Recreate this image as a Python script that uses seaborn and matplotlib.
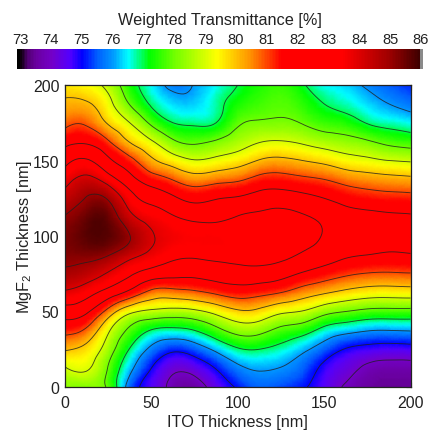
import matplotlib

matplotlib.use("Agg")
import matplotlib.pyplot as plt
import matplotlib.tri as mtri
import numpy as np
import seaborn as sns
from matplotlib.colors import LinearSegmentedColormap

# values, one list per ITO thickness, MgF2 going 0 -> 200 in 12.5 nm steps
ito_thickness = [0, 12.5, 25, 37.5, 50, 62.5, 75, 87.5, 100, 112.5, 125, 137.5, 150, 162.5, 175, 187.5, 200]
mgf2_thickness = [0, 12.5, 25, 37.5, 50, 62.5, 75, 87.5, 100, 112.5, 125, 137.5, 150, 162.5, 175, 187.5, 200]
t_000 = [78.3, 78.95, 80.1, 81.3, 82.55, 83.85, 84.8, 85.25, 85.3, 85.05, 84.4, 83.6, 82.7, 81.7, 80.75, 80.15, 79.6]
t_012 = [78.2, 79.1, 79.7, 80.8, 82.15, 83.4, 84.5, 85.3, 85.7, 85.55, 85.05, 84.25, 83.1, 81.85, 80.85, 80.1, 79.35]
t_025 = [77.85, 77.95, 78.5, 79.15, 80.65, 82.6, 83.9, 85.05, 85.7, 85.55, 84.9, 83.5, 82.2, 81.1, 79.9, 79.3, 78.7]
t_037 = [75.6, 76.25, 76.95, 77.8, 79.25, 81.7, 83.15, 84.35, 85.02, 84.3, 83.45, 82.35, 81.3, 79.95, 79.0, 77.95, 77.4]
t_050 = [74.6, 75.0, 75.8, 76.95, 78.8, 80.7, 82.55, 83.75, 84.1, 83.6, 82.65, 81.5, 80.2, 79.1, 77.8, 76.9, 76.5]
t_062 = [73.75, 74.2, 75.2, 76.75, 78.65, 80.6, 82.3, 83.25, 83.65, 83.1, 82.15, 80.95, 79.5, 78.15, 77.0, 76.35, 75.8]
t_075 = [73.6, 74.35, 75.5, 77.0, 78.8, 80.8, 82.25, 83.15, 83.5, 82.75, 81.75, 80.45, 79.05, 77.85, 76.85, 76.3, 76.05]
t_087 = [74.4, 75.05, 76.2, 77.7, 79.3, 81.15, 82.45, 83.25, 83.5, 82.75, 81.95, 80.65, 79.25, 78.1, 77.0, 76.75, 76.5]
t_100 = [75.1, 75.8, 76.9, 78.35, 79.85, 81.45, 82.6, 83.3, 83.45, 83.05, 82.1, 80.85, 79.55, 78.55, 77.85, 77.35, 77.0]
t_112 = [75.55, 76.1, 77.0, 78.3, 79.75, 81.3, 82.6, 83.35, 83.45, 83.2, 82.4, 81.3, 80.05, 78.95, 78.1, 77.65, 77.4]
t_125 = [75.4, 75.97, 76.7, 77.75, 79.2, 81.0, 82.35, 83.25, 83.45, 83.3, 82.5, 81.4, 80.2, 79.05, 78.15, 77.8, 77.6]
t_137 = [75.1, 75.55, 76.2, 77.4, 78.95, 80.5, 81.9, 82.9, 83.25, 83.1, 82.3, 81.2, 80.0, 78.85, 77.95, 77.5, 77.1]
t_150 = [74.55, 74.8, 75.55, 76.7, 78.35, 80.1, 81.5, 82.55, 82.95, 82.8, 82.0, 81.0, 79.75, 78.55, 77.6, 77.0, 76.5]
t_162 = [73.9, 74.3, 74.95, 76.3, 78.0, 79.75, 81.15, 82.15, 82.6, 82.4, 81.65, 80.65, 79.4, 78.35, 77.4, 76.7, 76.3]
t_175 = [73.55, 73.85, 74.7, 76.05, 77.75, 79.5, 80.95, 82.0, 82.4, 82.25, 81.45, 80.45, 79.2, 78.1, 76.95, 76.35, 75.85]
t_187 = [73.45, 73.7, 74.6, 76.0, 77.7, 79.45, 80.9, 81.9, 82.3, 82.15, 81.35, 80.3, 79.0, 77.75, 76.7, 76.0, 75.5]
t_200 = [73.5, 73.7, 74.65, 76.05, 77.7, 79.5, 80.95, 81.95, 82.3, 82.1, 81.3, 80.2, 78.9, 77.55, 76.5, 75.7, 75.2]

scale_ticks = [73, 74, 75, 76, 77, 78, 79, 80, 81, 82, 83, 84, 85, 86]
contour_levels = [74, 75, 76, 77, 78, 79, 80, 81, 82, 83, 84, 85]
color_stops = [
    (73.0, "#100010"), (73.2, "#500070"), (73.5, "#6a00a0"), (74.0, "#7400c8"), (74.6, "#5200ff"), (75.0, "#0000ff"),
    (75.5, "#0060ff"), (76.0, "#0098ff"), (76.5, "#00ffff"), (77.2, "#00ff00"), (78.0, "#70ff00"),
    (79.4, "#ffff00"), (80.5, "#ff9000"), (81.5, "#ff0000"), (83.5, "#ff0000"), (85.0, "#a00000"),
    (86.0, "#400000"),
]

sns.set_style("ticks")
plt.rcParams["font.family"] = ["Liberation Sans", "DejaVu Sans"]
plt.rcParams["mathtext.default"] = "regular"
plt.rcParams["text.color"] = "#222222"
plt.rcParams["axes.labelcolor"] = "#222222"

Z = np.array([t_000, t_012, t_025, t_037, t_050, t_062, t_075, t_087, t_100,
              t_112, t_125, t_137, t_150, t_162, t_175, t_187, t_200]).T
X, Y = np.meshgrid(ito_thickness, mgf2_thickness)

cmap = LinearSegmentedColormap.from_list(
    "transmittance", [((v - 73.0) / 13.0, c) for v, c in color_stops], N=256
)
cmap.set_under("#000000")
cmap.set_over("#8a8a8a")

W = H = 431
fig = plt.figure(figsize=(W / 100, H / 100), dpi=100)
ax = fig.add_axes([65 / W, 1 - 388 / H, 345.5 / W, 302 / H])
cax = fig.add_axes([17.3 / W, 1 - 69.5 / H, 405.7 / W, 19.5 / H])

# main map, matplotlib's refiner only smooths the drawing of the read grid
triang = mtri.Triangulation(X.ravel(), Y.ravel())
fine_tri, fine_z = mtri.UniformTriRefiner(triang).refine_field(Z.ravel(), subdiv=3)
ax.tripcolor(fine_tri, fine_z, cmap=cmap, vmin=73, vmax=86, shading="gouraud")
ax.tricontour(fine_tri, fine_z, levels=contour_levels, colors="#202020", linewidths=0.65, alpha=0.8)
ax.set_xlim(0, 200)
ax.set_ylim(0, 200)
ax.set_xticks([0, 50, 100, 150, 200])
ax.set_yticks([0, 50, 100, 150, 200])
ax.set_xticks([25, 75, 125, 175], minor=True)
ax.set_yticks([25, 75, 125, 175], minor=True)
ax.tick_params(which="major", direction="in", top=True, right=True, length=3.5, width=0.8,
               labelsize=11.4, labelcolor="#222222")
ax.tick_params(axis="x", which="major", pad=5.5)
ax.tick_params(axis="y", which="major", pad=4)
ax.tick_params(which="minor", direction="in", top=True, right=True, length=2, width=0.7)
for spine in ax.spines.values():
    spine.set_linewidth(0.9)
    spine.set_color("#222222")
ax.set_xlabel("ITO Thickness [nm]", fontsize=11.7, labelpad=3.5)
ax.set_ylabel("MgF$_2$ Thickness [nm]", fontsize=11.7, labelpad=-0.5)

# colour scale strip
lo, hi = 72.91, 86.07
strip = np.linspace(lo, hi, 260)[None, :]
sns.heatmap(strip, ax=cax, cmap=cmap, vmin=73, vmax=86, cbar=False)
cax.set_yticks([])
cax.xaxis.tick_top()
cax.set_xticks([(v - lo) / (hi - lo) * strip.shape[1] for v in scale_ticks], [str(v) for v in scale_ticks], rotation=0)
cax.tick_params(axis="x", length=0, labelsize=10.6, pad=1.8, top=False, bottom=False, labelcolor="#222222")
cax.set_xlabel("")
cax.set_title("Weighted Transmittance [%]", fontsize=11.7, pad=17.8)

fig.savefig("out.png", dpi=100)
plt.close(fig)
